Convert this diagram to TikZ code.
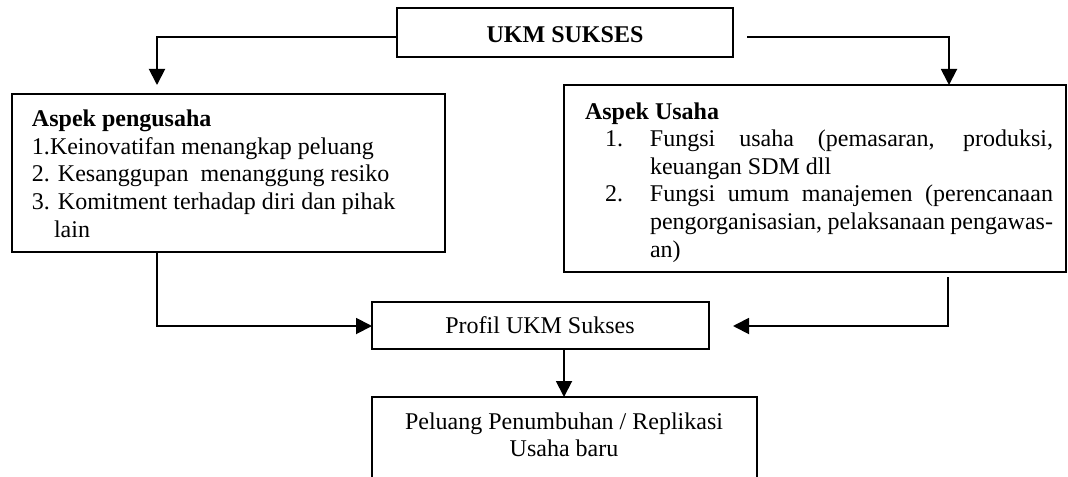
\documentclass[tikz,border=0pt]{standalone}
\usepackage{fontspec}
\setmainfont{Liberation Serif}
\usetikzlibrary{arrows.meta,fit}
\begin{document}
\begin{tikzpicture}[x=0.5pt,y=-0.5pt,line width=0.95pt,
  box/.style={draw,inner sep=0pt,outer sep=0pt},
  txt/.style={inner sep=0pt,outer sep=0pt,font=\fontsize{12}{13.8}\selectfont},
  arr/.style={-{Triangle[width=8pt,length=8pt]}}]
\useasboundingbox (0,0) rectangle (1068,476);
% boxes
\node[box,fit={(397,8)(733,57)}] (ukm) {};
\node[box,fit={(12,94)(445,252)}] (ap) {};
\node[box,fit={(564,85)(1066,272)}] (au) {};
\node[box,fit={(372,302)(709,349)}] (prof) {};
\node[box,fit={(372,397)(757,490)}] (pel) {};
% texts
\node[txt,anchor=base] (tukm) at (565,43) {\textbf{UKM SUKSES}};
\node[txt,anchor=north west,align=left] (tap) at (32,107.4) {\strut\textbf{Aspek pengusaha}\\
1.Keinovatifan menangkap peluang\\
2. Kesanggupan\ \ menanggung resiko\\
3. Komitment terhadap diri dan pihak\\
\hspace*{11pt}lain};
\node[txt,anchor=north west,align=left] (tau) at (585,99.7) {\strut\textbf{Aspek Usaha}\\
\hspace*{10pt}\makebox[22.5pt][l]{1.}\makebox[201.5pt][s]{Fungsi usaha (pemasaran, produksi,}\\
\hspace*{32.5pt}keuangan SDM dll\\
\hspace*{10pt}\makebox[22.5pt][l]{2.}\makebox[201.5pt][s]{Fungsi umum manajemen (perencanaan}\\
\hspace*{32.5pt}\makebox[201.5pt][s]{pengorganisasian, pelaksanaan pengawas-}\\
\hspace*{32.5pt}an)};
\node[txt,anchor=base] (tprof) at (540,333) {Profil UKM Sukses};
\node[txt,anchor=north,align=center] (tpel) at (564,409.7) {\strut Peluang Penumbuhan / Replikasi\\Usaha baru};
% connector end points
\coordinate (s1) at (397,37);
\coordinate (t1) at (157,85);
\coordinate (s2) at (747,37);
\coordinate (t2) at (949,85);
\coordinate (s3) at (157,252);
\coordinate (t3) at (372,326);
\coordinate (s4) at (948,277);
\coordinate (t4) at (733,326);
\coordinate (s5) at (564,349);
\coordinate (t5) at (564,397);
% connectors
\draw[arr] (s1) -| (t1);
\draw[arr] (s2) -| (t2);
\draw[arr] (s3) |- (t3);
\draw[arr] (s4) |- (t4);
\draw[arr] (s5) -- (t5);
\end{tikzpicture}
\end{document}
